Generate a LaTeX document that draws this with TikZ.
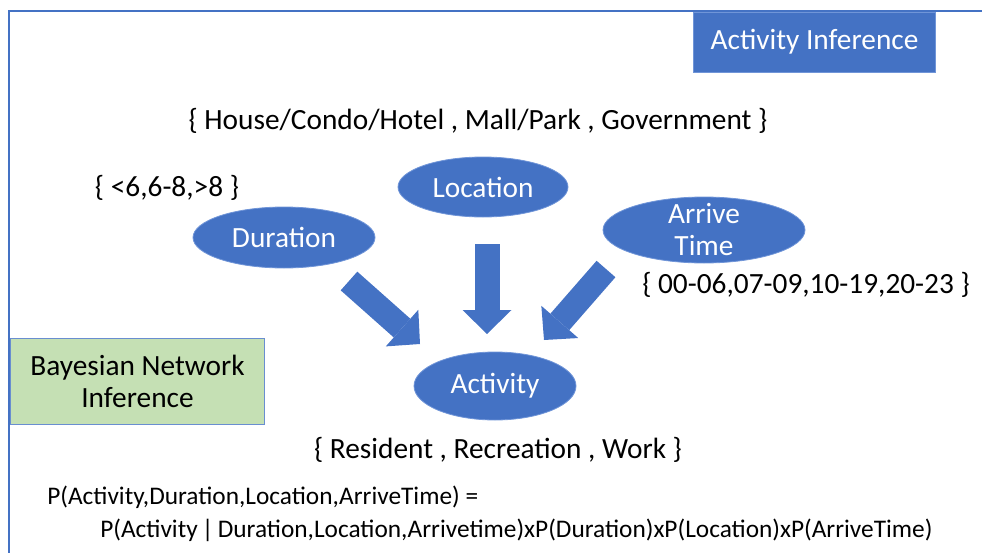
\documentclass[tikz,border=0pt]{standalone}
\usepackage{fontspec}
\setmainfont{Carlito}
\usetikzlibrary{arrows.meta}
\usetikzlibrary{shapes.geometric}
\usetikzlibrary{positioning}

\definecolor{nodeblue}{HTML}{4472C4}
\definecolor{edgeblue}{HTML}{7095D8}
\definecolor{boxgreen}{HTML}{C5E0B4}

\tikzset{
	bubble/.style={ellipse, fill=nodeblue, draw=edgeblue, line width=0.6pt, text=white, inner sep=0pt, font=\fontsize{22}{24}\selectfont},
	valueset/.style={inner sep=0pt, font=\fontsize{22}{24}\selectfont},
	bigarrow/.style={draw=nodeblue, line width=18.75pt, -{Triangle[width=36.75pt,length=18pt,line width=0pt]}},
}

\begin{document}
\begin{tikzpicture}[x=0.75pt,y=-0.75pt]
	\useasboundingbox (0,0) rectangle (982,553);
	% frame
	\draw[nodeblue, line width=1.1pt] (9,553) -- (9,11) -- (982,11);

	\node[fill=nodeblue, draw=edgeblue, line width=0.6pt, text=white, minimum width=182pt, minimum height=45pt, font=\fontsize{22}{24}\selectfont] (title) at (814.5,42) {Activity Inference};
	\node[fill=boxgreen, draw=nodeblue!80, line width=0.6pt, minimum width=191pt, minimum height=65pt, align=center, font=\fontsize{22}{24.5}\selectfont] (bn) at (137.5,381.5) {Bayesian Network\\Inference};

	% the network
	\node[bubble, minimum width=127.5pt, minimum height=45pt] (loc) at (483,187) {Location};
	\node[bubble, minimum width=136.5pt, minimum height=45.75pt] (dur) at (284,237.5) {Duration};
	\node[bubble, minimum width=151.5pt, minimum height=49.5pt, label={[text=white, align=center, font=\fontsize{22}{24}\selectfont]center:Arrive\\Time}] (arr) at (704,230) {};
	\node[bubble, minimum width=121.5pt, minimum height=51pt] (act) at (495,386) {Activity};

	% value sets
	\node[valueset] (locvals) at (478,121) {\{ House/Condo/Hotel , Mall/Park , Government \}};
	\node[valueset] (durvals) at (167,188) {\{ <6,6-8,>8 \}};
	\node[valueset] (arrvals) at (806,285) {\{ 00-06,07-09,10-19,20-23 \}};
	\node[valueset] (actvals) at (498,450) {\{ Resident , Recreation , Work \}};

	% arrows
	\coordinate (durtail) at (349,281);
	\coordinate (durtip) at (420,344);
	\coordinate (loctail) at (487,244);
	\coordinate (loctip) at (487,334);
	\coordinate (arrtail) at (606,269);
	\coordinate (arrtip) at (544,340);
	\draw[bigarrow] (durtail) -- (durtip);
	\draw[bigarrow] (loctail) -- (loctip);
	\draw[bigarrow] (arrtail) -- (arrtip);

	% joint probability
	\node[anchor=west, inner sep=0pt, font=\fontsize{19}{21}\selectfont] (eqn) at (47,497) {P(Activity,Duration,Location,ArriveTime) =};
	\node[anchor=west, inner sep=0pt, font=\fontsize{19}{21}\selectfont] (eqnrhs) at (100,530) {P(Activity\,|\,Duration,Location,Arrivetime)xP(Duration)xP(Location)xP(ArriveTime)};
\end{tikzpicture}
\end{document}
